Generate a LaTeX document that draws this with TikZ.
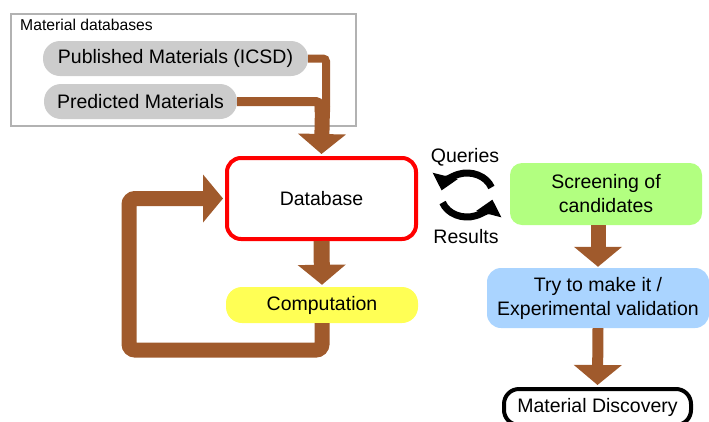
\documentclass[tikz,border=0pt]{standalone}
\usepackage{fontspec}
\setmainfont{Liberation Sans}
\usetikzlibrary{arrows.meta}
\definecolor{brn}{RGB}{160,90,44}
\definecolor{pillgray}{RGB}{204,204,204}
\definecolor{boxgray}{RGB}{178,178,178}
\definecolor{grn}{RGB}{178,255,128}
\definecolor{yel}{RGB}{255,255,85}
\definecolor{blu}{RGB}{170,212,255}
\tikzset{
  main/.style={font=\fontsize{19.5}{24}\selectfont, align=center, inner sep=0pt},
  pill/.style={main, fill=pillgray, rounded corners=17pt, minimum height=35pt},
  brarrow/.style={draw=brn, -{Triangle[length=20pt,width=47pt]}},
  brline/.style={draw=brn},
  cyc/.style={draw=black, line width=7pt, -{Triangle[length=15pt,width=25pt]}}
}
\begin{document}
\begin{tikzpicture}[x=1pt,y=-1pt]
\useasboundingbox (0,0) rectangle (709,421);
% database container
\node[draw=boxgray, line width=2pt, minimum width=345pt, minimum height=112pt, inner sep=0pt] (dbs) at (183.5,70) {};
\node[anchor=west, inner sep=0pt, font=\fontsize{15.7}{19}\selectfont] (dbslabel) at (20,25) {Material databases};
\node[pill, minimum width=265pt] (icsd) at (175.5,58.5) {Published Materials (ICSD)};
\node[pill, minimum width=193pt] (pred) at (140.5,101.5) {Predicted Materials};
% main nodes
\node[main, draw=red, line width=4pt, rounded corners=14pt, minimum width=189pt, minimum height=81pt, fill=white] (db) at (321.5,198.5) {Database};
\node[main, fill=yel, rounded corners=16pt, minimum width=192pt, minimum height=36pt] (comp) at (322,305) {Computation};
\node[main, fill=grn, rounded corners=12pt, minimum width=192pt, minimum height=62pt] (screen) at (606,194) {Screening of\\candidates};
\node[main, fill=blu, rounded corners=14pt, minimum width=222pt, minimum height=60pt] (try) at (598,298) {Try to make it /\\Experimental validation};
\node[main, draw=black, line width=4pt, rounded corners=15pt, minimum width=187pt, minimum height=36pt] (disc) at (597.5,407) {Material Discovery};
% labels for cycle
\node[main] (q) at (465,157) {Queries};
\node[main] (r) at (466,237) {Results};
% connectors from material databases
\draw[brline, line width=8pt, rounded corners=3pt] (icsd.east) -| (326,112);
\draw[brline, line width=9pt, rounded corners=3pt] (pred.east) -| (319,112);
\draw[brarrow, line width=15pt] (322.5,106) -- ([yshift=2pt]db.north);
% database -> computation
\draw[brarrow, line width=16pt] (db.south) -- ([yshift=2pt]comp.north);
% loop back
\draw[brarrow, line width=15pt, rounded corners=6pt] (comp.south) |- (129,350) -- (129,198.5) -- ([xshift=-2pt]db.west);
% right chain
\draw[brarrow, line width=15pt] (screen.south -| try.north) -- ([yshift=1pt]try.north);
\draw[brarrow, line width=11pt] (try.south) -- ([yshift=2pt]disc.north);
% cycle arrows
\coordinate (cc) at (467,195);
\draw[cyc] (cc) ++(-20:26 and 22) arc[start angle=-20, end angle=-168, x radius=26, y radius=22];
\draw[cyc] (cc) ++(-200:26 and 22) arc[start angle=-200, end angle=-348, x radius=26, y radius=22];
\end{tikzpicture}
\end{document}
